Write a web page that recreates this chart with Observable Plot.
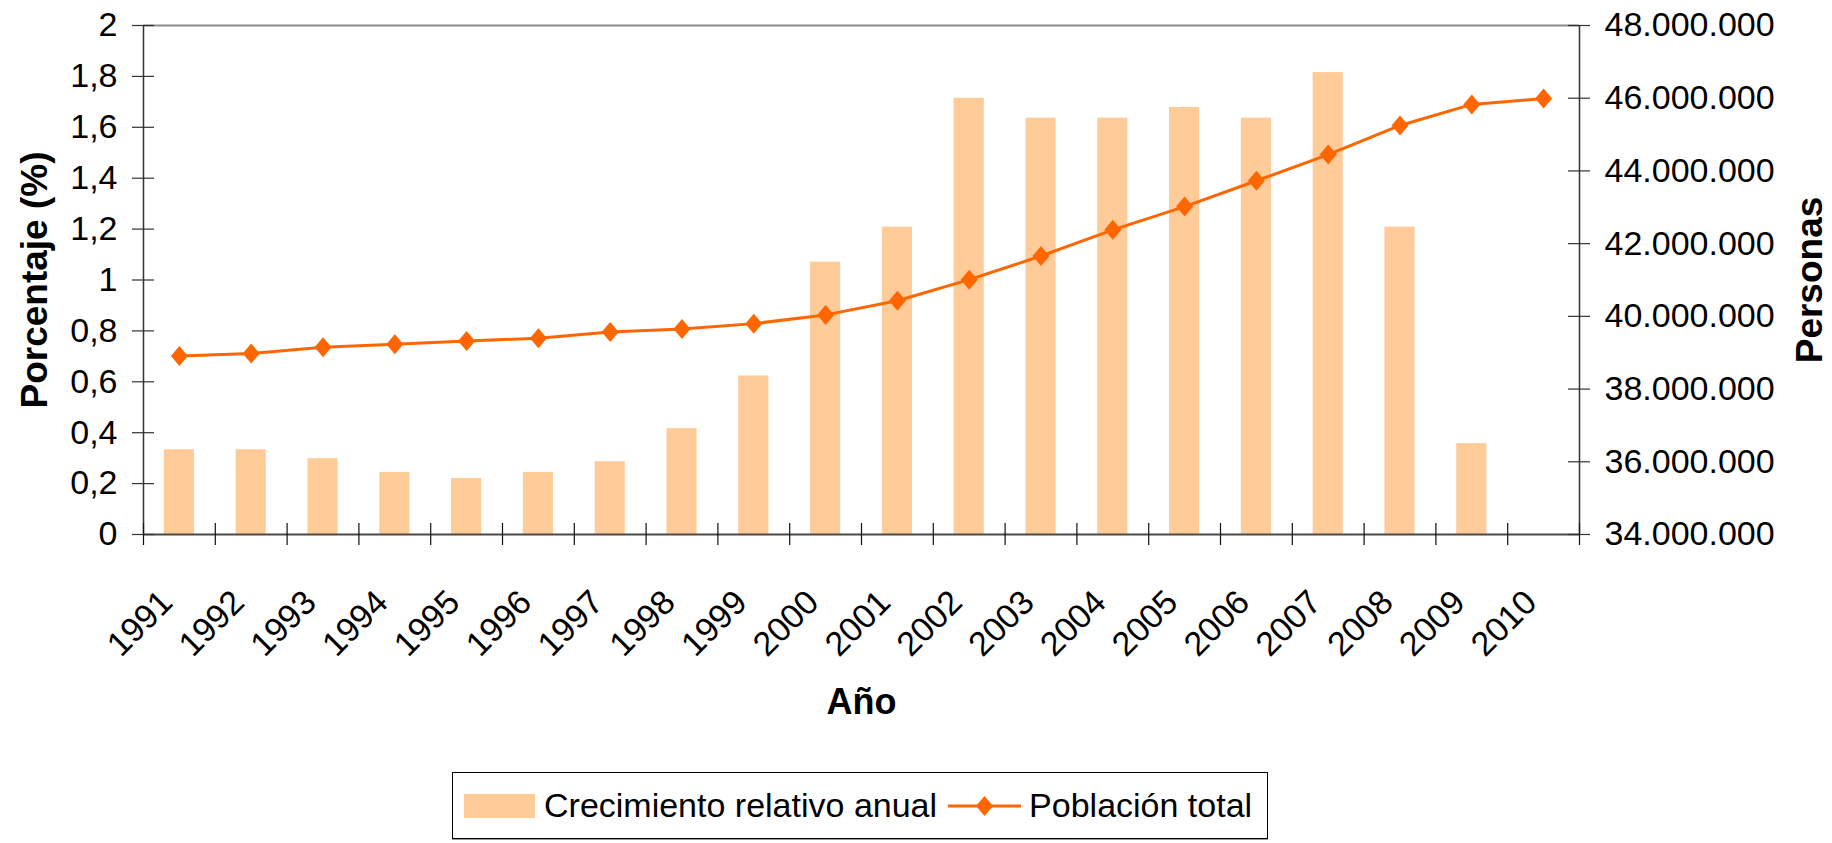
<!DOCTYPE html>
<html>
<head>
<meta charset="utf-8">
<script src="https://cdn.jsdelivr.net/npm/d3@7"></script>
<script src="https://cdn.jsdelivr.net/npm/@observablehq/plot@0.6"></script>
<style>
  body { margin: 0; background: #fff; font-family: "Liberation Sans", Arial, sans-serif; }
  #wrap { position: relative; width: 1832px; height: 843px; overflow: hidden; }
  #legend {
    position: absolute; left: 452px; top: 772px; width: 816px; height: 67px;
    box-sizing: border-box; border: 1px solid #000; box-shadow: 0 1px 0 #999;
    display: flex; align-items: center; font-size: 34px; color: #000; white-space: nowrap;
  }
  #legend .sw { display: inline-block; width: 71px; height: 24px; background: #FFCC99; margin-left: 11px; margin-right: 9px; }
  #legend svg { margin-left: 11px; margin-right: 8px; }
</style>
</head>
<body>
<div id="wrap">
  <div id="chart"></div>
  <div id="legend"></div>
</div>
<script>
// ---- data ----
const years = [1991, 1992, 1993, 1994, 1995, 1996, 1997, 1998, 1999, 2000,
               2001, 2002, 2003, 2004, 2005, 2006, 2007, 2008, 2009, 2010];
// Crecimiento relativo anual (%)
const growthPct = [0.333, 0.333, 0.298, 0.244, 0.220, 0.244, 0.286, 0.416, 0.623, 1.070,
                   1.208, 1.714, 1.636, 1.636, 1.678, 1.636, 1.815, 1.208, 0.357, null];
// Población total (personas)
const population = [38910000, 38980000, 39150000, 39230000, 39320000, 39400000, 39570000, 39650000, 39800000, 40040000,
                    40430000, 41010000, 41660000, 42380000, 43020000, 43730000, 44450000, 45250000, 45830000, 45990000];
const pctTicks = [0, 0.2, 0.4, 0.6, 0.8, 1, 1.2, 1.4, 1.6, 1.8, 2];
const popTicks = [34000000, 36000000, 38000000, 40000000, 42000000, 44000000, 46000000, 48000000];
const seriesNames = ["Crecimiento relativo anual", "Población total"];
const xTitle = "Año";
const yLeftTitle = "Porcentaje (%)";
const yRightTitle = "Personas";

// ---- helpers ----
const pctDomain = [0, 2];
const popDomain = [34000000, 48000000];
const toPct = p => (p - popDomain[0]) / (popDomain[1] - popDomain[0]) * (pctDomain[1] - pctDomain[0]) + pctDomain[0];
const fromPct = v => (v - pctDomain[0]) / (pctDomain[1] - pctDomain[0]) * (popDomain[1] - popDomain[0]) + popDomain[0];
const fmtPct = v => String(Math.round(v * 10) / 10).replace(".", ",");
const fmtPop = v => d3.format(",")(Math.round(fromPct(v) / 1e6) * 1e6).replace(/,/g, ".");

const barData = years.map((y, i) => ({year: y, pct: growthPct[i]})).filter(d => d.pct != null);
const popData = years.map((y, i) => ({year: y, pop: population[i]}));
const xDomain = [years[0] - 0.5, years[years.length - 1] + 0.5];
const bounds = d3.range(years.length + 1).map(i => xDomain[0] + i);

const ORANGE = "#FF6600";
const PEACH = "#FFCC99";

const diamond = {
  draw(ctx) {
    const w = 8.5, h = 10;
    ctx.moveTo(0, -h); ctx.lineTo(w, 0); ctx.lineTo(0, h); ctx.lineTo(-w, 0); ctx.closePath();
  }
};

const H = 760;
const chart = Plot.plot({
  width: 1832,
  height: H,
  marginLeft: 143,
  marginRight: 253,
  marginTop: 25,
  marginBottom: H - 534,
  x: {type: "linear", domain: xDomain, axis: null},
  y: {domain: pctDomain, axis: null},
  style: {fontFamily: '"Liberation Sans", Arial, sans-serif', fontSize: "34px", color: "#000", background: "#fff"},
  marks: [
    Plot.ruleY([pctDomain[1]], {stroke: "#8c8c8c", strokeWidth: 2}),
    Plot.rectY(barData, {x1: d => d.year - 0.21, x2: d => d.year + 0.21, y1: 0, y2: "pct", fill: PEACH}),
    Plot.ruleY([0], {stroke: "#4a4a4a", strokeWidth: 2}),
    Plot.ruleX([xDomain[0], xDomain[1]], {stroke: "#333", strokeWidth: 1.5}),
    // tick marks crossing the axes
    Plot.ruleX(bounds, {x: d => d, y1: 0, y2: 0, insetTop: -11, insetBottom: -11, stroke: "#111", strokeWidth: 1.2}),
    Plot.ruleY(pctTicks, {y: d => d, x1: xDomain[0], x2: xDomain[0], insetLeft: -11, insetRight: -11, stroke: "#333", strokeWidth: 1.2}),
    Plot.ruleY(popTicks.map(toPct), {y: d => d, x1: xDomain[1], x2: xDomain[1], insetLeft: -11, insetRight: -11, stroke: "#333", strokeWidth: 1.2}),
    // axis labels
    Plot.axisY({anchor: "left", ticks: pctTicks, tickSize: 0, tickPadding: 26, tickFormat: fmtPct, fontSize: 34, label: null}),
    Plot.axisY({anchor: "right", ticks: popTicks.map(toPct), tickSize: 0, tickPadding: 25, tickFormat: fmtPop, fontSize: 34, label: null}),
    Plot.text(years, {x: d => d, frameAnchor: "bottom", text: d => String(d), rotate: -45, textAnchor: "end", lineAnchor: "bottom", dx: -5, dy: 70, fontSize: 34, fill: "#000"}),
    // titles
    Plot.text([yLeftTitle], {frameAnchor: "left", rotate: -90, dx: -108, textAnchor: "middle", lineAnchor: "middle", fontSize: 37, fontWeight: "bold", fill: "#000"}),
    Plot.text([yRightTitle], {frameAnchor: "right", rotate: -90, dx: 231, textAnchor: "middle", lineAnchor: "middle", fontSize: 37, fontWeight: "bold", fill: "#000"}),
    Plot.text([xTitle], {frameAnchor: "bottom", dy: 168, textAnchor: "middle", lineAnchor: "middle", fontSize: 36, fontWeight: "bold", fill: "#000"}),
    // population line
    Plot.line(popData, {x: "year", y: d => toPct(d.pop), stroke: ORANGE, strokeWidth: 3}),
    Plot.dot(popData, {x: "year", y: d => toPct(d.pop), symbol: diamond, r: 6, fill: ORANGE, stroke: "none"})
  ]
});
document.getElementById("chart").appendChild(chart);

// legend
const legend = document.getElementById("legend");
const sw = document.createElement("span"); sw.className = "sw"; legend.appendChild(sw);
const t1 = document.createElement("span"); t1.textContent = seriesNames[0]; legend.appendChild(t1);
const ns = "http://www.w3.org/2000/svg";
const ls = document.createElementNS(ns, "svg");
ls.setAttribute("width", "73"); ls.setAttribute("height", "24");
ls.innerHTML = `<line x1="0" y1="12" x2="73" y2="12" stroke="${ORANGE}" stroke-width="3"/>` +
  `<path d="M36.5,2 L45,12 L36.5,22 L28,12Z" fill="${ORANGE}"/>`;
legend.appendChild(ls);
const t2 = document.createElement("span"); t2.textContent = seriesNames[1]; legend.appendChild(t2);
</script>
</body>
</html>
